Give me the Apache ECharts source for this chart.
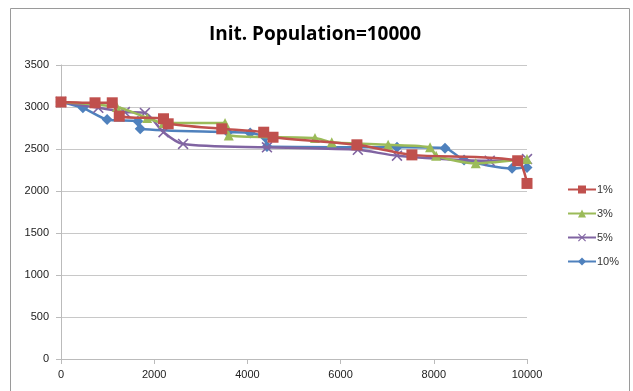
<!DOCTYPE html>
<html><head><meta charset="utf-8">
<script src="https://cdn.jsdelivr.net/npm/echarts@6/dist/echarts.min.js"></script>
<style>html,body{margin:0;padding:0;background:#fff}#c{width:633px;height:391px}</style>
</head><body><div id="c"></div>
<script>
const title = 'Init. Population=10000';
const seriesNames = ['1%', '3%', '5%', '10%'];
const xTicks = [0, 2000, 4000, 6000, 8000, 10000];
const yTicks = [0, 500, 1000, 1500, 2000, 2500, 3000, 3500];

const s1 = [[0,3060],[730,3050],[1100,3050],[1250,2890],[2200,2860],[2300,2800],[3450,2740],[4350,2700],[4550,2640],[6350,2550],[7530,2430],[9800,2360],[10000,2090]];
const s3 = [[0,3060],[1200,3000],[1850,2870],[2200,2810],[3520,2810],[3600,2660],[5450,2630],[5810,2580],[7020,2550],[7920,2520],[8050,2420],[8900,2330],[10000,2380]];
const s5 = [[0,3060],[800,2990],[1370,2940],[1800,2930],[2200,2700],[2620,2560],[4420,2520],[6370,2490],[7210,2420],[9200,2360],[10000,2380]];
const s10 = [[0,3060],[470,2990],[990,2850],[1650,2830],[1700,2740],[3580,2700],[4060,2690],[4380,2640],[4420,2530],[7210,2520],[8240,2510],[8650,2370],[9680,2270],[10000,2280]];

const colors = ['#C0504D', '#9BBB59', '#8064A2', '#4F81BD'];
const symbols = ['rect', 'triangle', 'path://M0,1L1,0L5,4L9,0L10,1L6,5L10,9L9,10L5,6L1,10L0,9L4,5Z', 'diamond'];
const sizes = [11, 10, 11, 11];
const data = [s1, s3, s5, s10];

const chart = echarts.init(document.getElementById('c'));
const font = "'Liberation Sans', Arial, sans-serif";
chart.setOption({
  animation: false,
  textStyle: {fontFamily: font},
  graphic: [{type: 'rect', shape: {x: 10.5, y: 8.5, width: 619, height: 400}, style: {fill: 'none', stroke: '#9a9a9a', lineWidth: 1}}],
  title: {text: title, left: 310, top: 20, textAlign: 'center', textStyle: {fontSize: 19, fontWeight: 'bold', color: '#000', fontFamily: "'Open Sans', 'Liberation Sans', sans-serif"}},
  legend: {
    orient: 'vertical', left: 562, top: 179, itemGap: 13, itemWidth: 28, itemHeight: 10,
    textStyle: {fontSize: 11, color: '#333', padding: [0,0,0,-4]},
    data: seriesNames
  },
  grid: {left: 61, right: 106, top: 65, bottom: 32},
  xAxis: {
    type: 'value', min: xTicks[0], max: xTicks[xTicks.length-1], interval: 2000,
    axisLine: {lineStyle: {color: '#bbb'}}, axisTick: {show: true, length: 5, lineStyle: {color: '#bbb'}},
    splitLine: {show: false}, axisLabel: {color: '#222', fontSize: 11, margin: 10, formatter: v => String(v)}
  },
  yAxis: {
    type: 'value', min: yTicks[0], max: yTicks[yTicks.length-1], interval: 500,
    axisLine: {show: true, lineStyle: {color: '#bbb'}}, axisTick: {show: true, length: 5, lineStyle: {color: '#bbb'}},
    splitLine: {lineStyle: {color: '#c8c8c8'}}, axisLabel: {color: '#222', fontSize: 11, margin: 12, formatter: v => String(v)}
  },
  series: data.map((d, i) => ({
    name: seriesNames[i], type: 'line', data: d, smooth: 0.25,
    symbol: symbols[i], symbolSize: sizes[i], showAllSymbol: true,
    lineStyle: {color: colors[i], width: 2.5},
    itemStyle: {color: colors[i]},
    z: 2 + (3 - i)
  }))
});
</script></body></html>
